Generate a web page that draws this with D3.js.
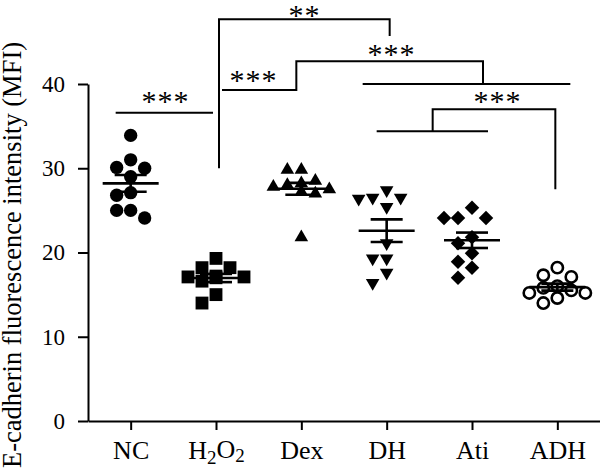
<!DOCTYPE html>
<html>
<head>
<meta charset="utf-8">
<script src="https://cdn.jsdelivr.net/npm/d3@7"></script>
<style>
  body { margin: 0; background: #fff; }
  svg { display: block; font-family: "Liberation Serif", "Times New Roman", serif; }
</style>
</head>
<body>
<script>
"use strict";
// groups on the x axis
const groups = ["NC", "H2O2", "Dex", "DH", "Ati", "ADH"]
// E-cadherin MFI, one array per group
const ncValues = [33.9, 31.0, 30.1, 30.0, 29.0, 27.1, 26.8, 25.0, 25.0, 24.1]
const h2o2Values = [19.3, 18.2, 18.2, 17.2, 17.1, 17.1, 17.0, 16.6, 15.0, 14.0]
const dexValues = [29.8, 29.8, 28.5, 28.2, 28.0, 27.8, 27.5, 27.2, 27.0, 21.8]
const dhValues = [27.4, 26.5, 26.5, 26.4, 25.4, 21.1, 19.3, 19.3, 17.6, 16.4]
const atiValues = [25.3, 24.1, 24.1, 24.1, 21.8, 21.1, 19.9, 18.9, 18.2, 17.0]
const adhValues = [18.2, 17.3, 17.1, 16.0, 15.8, 15.5, 15.2, 15.2, 14.6, 14.0]
const yTicks = [0, 10, 20, 30, 40]
const yLabel = "E-cadherin fluorescence intensity (MFI)"

const allValues = [ncValues, h2o2Values, dexValues, dhValues, atiValues, adhValues]

const measurements = {
    width: 600,
    height: 475,
    left: 88,
    right: 600,
    top: 84,
    bottom: 421
}

let svgContainer = d3.select("body").append("svg")
    .attr("width", measurements.width)
    .attr("height", measurements.height)

let scaleX = d3.scalePoint()
    .domain(groups)
    .range([measurements.left, measurements.right])
    .padding(0.5)

let scaleY = d3.scaleLinear()
    .domain([0, 40])
    .range([measurements.bottom, measurements.top])

// axes
let yAxis = svgContainer.append("g")
    .attr("transform", `translate(${measurements.left},0)`)
    .call(d3.axisLeft(scaleY).tickValues(yTicks).tickSize(10).tickPadding(13).tickSizeOuter(0))
let xAxis = svgContainer.append("g")
    .attr("transform", `translate(0,${measurements.bottom})`)
    .call(d3.axisBottom(scaleX).tickSize(9).tickPadding(11).tickSizeOuter(0))

for (let ax of [xAxis, yAxis]) {
    ax.attr("font-family", null).attr("font-size", null)
    ax.select(".domain").attr("stroke", "#000").attr("stroke-width", 2)
    ax.selectAll(".tick line").attr("stroke", "#000").attr("stroke-width", 2)
    ax.selectAll("text").attr("fill", "#000")
}
yAxis.selectAll("text").style("font-size", "23px")
xAxis.selectAll("text").style("font-size", "26px")

// H2O2 with subscripts
xAxis.selectAll(".tick text").filter(d => d === "H2O2").each(function() {
    let t = d3.select(this).text(null)
    t.append("tspan").text("H")
    t.append("tspan").text("2").attr("dy", "0.25em").style("font-size", "19px")
    t.append("tspan").text("O").attr("dy", "-0.25em")
    t.append("tspan").text("2").attr("dy", "0.25em").style("font-size", "19px")
})

svgContainer.append("text")
    .attr("transform", "rotate(-90)")
    .attr("x", -255)
    .attr("y", 21)
    .attr("text-anchor", "middle")
    .style("font-size", "26.5px")
    .text(yLabel)

// spread points sideways in slots so markers do not pile up
function swarm(values, step, rowH) {
    let placed = []
    let slots = [0, -1, 1, -2, 2]
    return values.map(v => {
        let y = scaleY(v)
        let best = 0, bestHits = Infinity
        for (let s of slots) {
            let hits = placed.filter(p => p.slot === s && Math.abs(p.y - y) < rowH).length
            if (hits < bestHits) { best = s; bestHits = hits }
            if (hits === 0) break
        }
        placed.push({slot: best, y: y})
        return {value: v, dx: best * step}
    })
}

const markers = [
    {type: d3.symbolCircle, size: 140, rotate: 0, fill: "#000", stroke: "none"},
    {type: d3.symbolSquare, size: 165, rotate: 0, fill: "#000", stroke: "none"},
    {type: d3.symbolTriangle, size: 80, rotate: 0, fill: "#000", stroke: "none"},
    {type: d3.symbolTriangle, size: 80, rotate: 180, fill: "#000", stroke: "none"},
    {type: d3.symbolSquare, size: 105, rotate: 45, fill: "#000", stroke: "none"},
    {type: d3.symbolCircle, size: 100, rotate: 0, fill: "#fff", stroke: "#000"}
]

groups.forEach((g, i) => {
    let cx = scaleX(g)
    let pts = swarm(allValues[i], 14, 12)
    let m = markers[i]
    let sym = d3.symbol().type(m.type).size(m.size)
    svgContainer.append("g").selectAll("path")
        .data(pts)
        .enter()
        .append("path")
        .attr("d", sym)
        .attr("transform", d => `translate(${cx + d.dx},${scaleY(d.value)}) rotate(${m.rotate})`)
        .attr("fill", m.fill)
        .attr("stroke", m.stroke)
        .attr("stroke-width", 2.6)

    // mean and SEM
    let mean = d3.mean(allValues[i])
    let sem = d3.deviation(allValues[i]) / Math.sqrt(allValues[i].length)
    let bars = svgContainer.append("g").attr("stroke", "#000").attr("stroke-width", 2.6)
    bars.append("line").attr("x1", cx - 28).attr("x2", cx + 28)
        .attr("y1", scaleY(mean)).attr("y2", scaleY(mean))
    bars.append("line").attr("x1", cx).attr("x2", cx)
        .attr("y1", scaleY(mean + sem)).attr("y2", scaleY(mean - sem))
    for (let v of [mean + sem, mean - sem]) {
        bars.append("line").attr("x1", cx - 16).attr("x2", cx + 16)
            .attr("y1", scaleY(v)).attr("y2", scaleY(v))
    }
})

// significance brackets
const X = g => scaleX(g)
const Y = v => scaleY(v)
let brackets = svgContainer.append("g")
    .attr("fill", "none")
    .attr("stroke", "#000")
    .attr("stroke-width", 2)
let paths = [
    [[X("NC") - 15, Y(36.6)], [X("H2O2") - 3, Y(36.6)]],
    [[X("H2O2") + 3, Y(30.0)], [X("H2O2") + 3, Y(47.7)], [X("DH") + 3, Y(47.7)], [X("DH") + 3, Y(45.7)]],
    [[X("H2O2") + 6, Y(39.3)], [X("Dex") - 5, Y(39.3)], [X("Dex") - 5, Y(42.7)], [X("Ati") + 11, Y(42.7)], [X("Ati") + 11, Y(40.0)]],
    [[X("DH") - 24, Y(40.0)], [X("ADH") + 13, Y(40.0)]],
    [[X("ADH") - 2, Y(27.5)], [X("ADH") - 2, Y(37.0)], [X("DH") + 46, Y(37.0)], [X("DH") + 46, Y(34.4)]],
    [[X("DH") - 10, Y(34.4)], [X("Ati") + 16, Y(34.4)]]
]
for (let p of paths) {
    brackets.append("path").attr("d", d3.line()(p))
}

function stars(cx, cy, n) {
    for (let i = 0; i < n; i++) {
        svgContainer.append("text")
            .attr("x", cx + (i - (n - 1) / 2) * 16)
            .attr("y", cy + 15)
            .attr("text-anchor", "middle")
            .style("font-size", "30px")
            .text("*")
    }
}
stars(165, 96, 3)
stars(304, 10, 2)
stars(253, 75, 3)
stars(391, 49, 3)
stars(497, 96, 3)
</script>
</body>
</html>
